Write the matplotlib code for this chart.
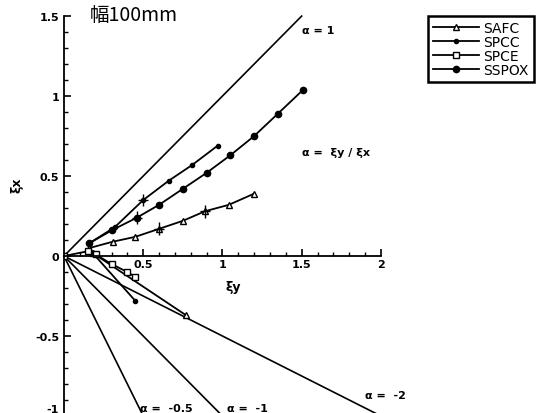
import matplotlib
matplotlib.use("Agg")
import matplotlib.pyplot as plt
from matplotlib.ticker import MultipleLocator, FixedLocator, FixedFormatter
from matplotlib.transforms import ScaledTranslation
import numpy as np

plt.rcParams['font.family'] = ['DejaVu Sans']

# ---- data ----
alpha_values = [1, -0.5, -1, -2]
alpha_x_end = [1.5, 0.5, 1.0, 2.0]

SAFC_x = [0.16, 0.31, 0.45, 0.60, 0.75, 0.89, 1.04, 1.20]
SAFC_y = [0.05, 0.09, 0.12, 0.17, 0.22, 0.28, 0.32, 0.39]
SAFC_neg_x = [0.18, 0.77]
SAFC_neg_y = [0.02, -0.37]

SPCC_x = [0.16, 0.32, 0.50, 0.66, 0.81, 0.97]
SPCC_y = [0.08, 0.18, 0.35, 0.47, 0.57, 0.69]
SPCC_neg_x = [0.18, 0.45]
SPCC_neg_y = [0.02, -0.28]

SPCE_x = [0.0, 0.15, 0.20, 0.30, 0.40, 0.45]
SPCE_y = [0.0, 0.03, 0.01, -0.05, -0.10, -0.13]

SSPOX_x = [0.16, 0.30, 0.46, 0.60, 0.75, 0.90, 1.05, 1.20, 1.35, 1.51]
SSPOX_y = [0.08, 0.16, 0.24, 0.32, 0.42, 0.52, 0.63, 0.75, 0.89, 1.04]

err_x = [0.50, 0.46, 0.60, 0.89]
err_y = [0.35, 0.24, 0.17, 0.28]

x_ticks = [0.5, 1, 1.5, 2]
x_tick_labels = ['0.5', '1', '1.5', '2']
y_ticks = [-1, -0.5, 0, 0.5, 1, 1.5]
y_tick_labels = ['-1', '-0.5', '0', '0.5', '1', '1.5']

fig = plt.figure(figsize=(5.39, 4.14), dpi=100)
ax = fig.add_axes([0.1187, -0.00725, 0.588, 0.966])
ax.set_xlim(0, 2)
ax.set_ylim(-1, 1.5)

# alpha reference lines
for a, xe in zip(alpha_values, alpha_x_end):
    xs = np.array([0, xe])
    ax.plot(xs, xs / a, color='black', lw=1.2, clip_on=False)

lw = 1.3
ax.plot(SAFC_x, SAFC_y, '-^', color='black', mfc='white', ms=4.5, lw=lw, label='SAFC')
ax.plot(SAFC_neg_x, SAFC_neg_y, '-^', color='black', mfc='white', ms=4.5, lw=lw)
ax.plot(SPCC_x, SPCC_y, '-o', color='black', ms=3, lw=lw, label='SPCC')
ax.plot(SPCC_neg_x, SPCC_neg_y, '-o', color='black', ms=3, lw=lw)
ax.plot(SPCE_x, SPCE_y, '-s', color='black', mfc='white', ms=4.5, lw=lw, label='SPCE')
ax.plot(SSPOX_x, SSPOX_y, '-o', color='black', ms=4.5, lw=lw, label='SSPOX')
ax.errorbar(err_x, err_y, yerr=0.04, xerr=0.03, fmt='none', ecolor='black', elinewidth=1.0)

# spines
for s in ['top', 'right']:
    ax.spines[s].set_visible(False)
ax.spines['bottom'].set_position(('data', 0))
ax.spines['left'].set_linewidth(1.3)
ax.spines['bottom'].set_linewidth(1.3)

ax.xaxis.set_major_locator(FixedLocator(x_ticks))
ax.xaxis.set_major_formatter(FixedFormatter(x_tick_labels))
ax.xaxis.set_minor_locator(MultipleLocator(0.1))
ax.yaxis.set_major_locator(FixedLocator(y_ticks))
ax.yaxis.set_major_formatter(FixedFormatter(y_tick_labels))
ax.yaxis.set_minor_locator(MultipleLocator(0.1))
ax.tick_params(axis='x', which='both', direction='in', top=False)
ax.tick_params(axis='y', which='both', direction='in', right=False)
ax.tick_params(which='major', length=5, width=1.2, labelsize=8)
ax.tick_params(which='minor', length=3, width=1.0)
ax.tick_params(axis='x', pad=2)
fig.canvas.draw()
for t in ax.get_xticklabels() + ax.get_yticklabels():
    t.set_fontweight('bold')
lab = ax.yaxis.get_major_ticks()[0].label1
lab.set_transform(lab.get_transform() + ScaledTranslation(0, 0.08, fig.dpi_scale_trans))

# labels
ax.text(1.07, -0.19, 'ξy', fontsize=9, fontweight='bold', ha='center', va='center')
fig.text(0.032, 0.553, 'ξx', fontsize=9, fontweight='bold', rotation=90, ha='center', va='center')
ax.text(0.16, 1.51, '幅100mm', fontsize=14, ha='left', va='center',
        family=['Noto Sans CJK JP', 'DejaVu Sans'])
ax.text(1.50, 1.41, 'α = 1', fontsize=8, fontweight='bold', ha='left', va='center')
ax.text(1.50, 0.65, 'α =  ξy / ξx', fontsize=8, fontweight='bold', ha='left', va='center')
ax.text(0.48, -0.95, 'α =  -0.5', fontsize=8, fontweight='bold', ha='left', va='center')
ax.text(1.03, -0.95, 'α =  -1', fontsize=8, fontweight='bold', ha='left', va='center')
ax.text(1.90, -0.87, 'α =  -2', fontsize=8, fontweight='bold', ha='left', va='center')

leg = fig.legend(loc='upper left', bbox_to_anchor=(0.782, 0.975), fontsize=10,
                 handlelength=3.3, handletextpad=0.3, labelspacing=0.0,
                 borderpad=0.35, fancybox=False, framealpha=1, edgecolor='black')
leg.get_frame().set_linewidth(1.8)

fig.savefig('out.png', dpi=100)
